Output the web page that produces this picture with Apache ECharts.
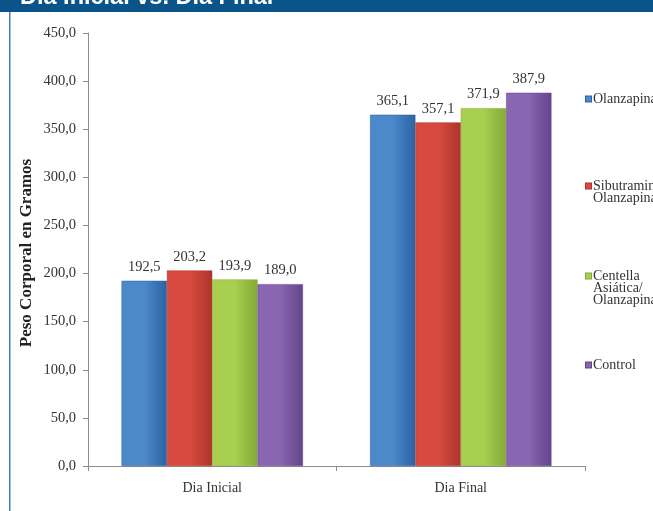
<!DOCTYPE html>
<html><head><meta charset="utf-8">
<script src="https://cdn.jsdelivr.net/npm/echarts@6/dist/echarts.min.js"></script>
<style>html,body{margin:0;padding:0;background:#fff}#c{width:653px;height:511px}</style>
</head><body><div id="c"></div>
<script>
const categories = ['Dia Inicial', 'Dia Final'];
const seriesNames = ['Olanzapina', 'Sibutramina/\nOlanzapina', 'Centella\nAsiática/\nOlanzapina', 'Control'];
const olanzapina = [192.5, 365.1];
const sibutramina = [203.2, 357.1];
const centella = [193.9, 371.9];
const control = [189.0, 387.9];
const yTicks = { min: 0, max: 450, interval: 50 };
const yAxisTitle = 'Peso Corporal en Gramos';

const colors = [
  ['#4b89cb', '#2c62a2'],
  ['#d84a3f', '#ad352d'],
  ['#a8cf4f', '#82aa36'],
  ['#8866b1', '#644489']
];
const values = [olanzapina, sibutramina, centella, control];
const serif = 'Liberation Serif';
const fmt = v => Number(v).toFixed(1).replace('.', ',');

const chart = echarts.init(document.getElementById('c'), null, { renderer: 'canvas' });

const legendTops = [87, 174, 264, 353];
const legends = seriesNames.map((n, i) => ({
  data: [n],
  orient: 'vertical',
  left: 576,
  top: legendTops[i],
  icon: 'none',
  itemWidth: 0,
  itemHeight: 0,
  selectedMode: false,
  formatter: name => {
    const lines = name.split('\n');
    return lines.map((l, k) => (k === 0 ? '{i' + i + '|}{t|' + l + '}' : '{s|}{t|' + l + '}')).join('\n');
  },
  textStyle: {
    fontFamily: serif, fontSize: 14, color: '#333', lineHeight: 12,
    rich: {
      ['i' + i]: { width: 5, height: 5, backgroundColor: colors[i][0], borderColor: colors[i][1], borderWidth: 1 },
      s: { width: 5, height: 5 },
      t: { fontFamily: serif, fontSize: 14, color: '#333', padding: [0, 0, 0, 2], lineHeight: 12 }
    }
  }
}));

chart.setOption({
  animation: false,
  backgroundColor: '#fff',
  graphic: [
    { type: 'rect', shape: { x: 0, y: 0, width: 653, height: 12 }, style: { fill: '#0b5489' }, z: 10 },
    { type: 'text', x: 20, y: -2, style: { text: 'Dia Inicial vs. Dia Final', fill: '#fff', font: 'bold 23.5px "Liberation Sans"', verticalAlign: 'middle' }, z: 11 },
    { type: 'rect', shape: { x: 9, y: 12, width: 1.5, height: 499 }, style: { fill: '#3f7fbf' }, z: 10 },
    { type: 'text', x: 27, y: 253, rotation: Math.PI / 2,
      style: { text: yAxisTitle, fill: '#222', font: 'bold 17px "Liberation Serif"', align: 'center', verticalAlign: 'middle' } }
  ],
  legend: legends,
  grid: { left: 88, right: 68, top: 33, bottom: 45, containLabel: false },
  xAxis: {
    type: 'category',
    data: categories,
    axisLine: { lineStyle: { color: '#8c8c8c' } },
    axisTick: { show: true, length: 5, lineStyle: { color: '#8c8c8c' } },
    axisLabel: { fontFamily: serif, fontSize: 14, color: '#333', margin: 15 }
  },
  yAxis: {
    type: 'value',
    min: yTicks.min, max: yTicks.max, interval: yTicks.interval,
    axisLine: { show: true, lineStyle: { color: '#8c8c8c' } },
    axisTick: { show: true, length: 5, lineStyle: { color: '#8c8c8c' } },
    splitLine: { show: false },
    axisLabel: { fontFamily: serif, fontSize: 14.5, color: '#333', margin: 12, formatter: fmt }
  },
  series: seriesNames.map((n, i) => ({
    name: n,
    type: 'bar',
    data: values[i],
    barGap: '0%',
    barCategoryGap: '27%',
    itemStyle: {
      color: new echarts.graphic.LinearGradient(0, 0, 1, 0, [
        { offset: 0, color: colors[i][0] },
        { offset: 0.5, color: colors[i][0] },
        { offset: 1, color: colors[i][1] }
      ]),
      borderColor: colors[i][1], borderWidth: 0.5
    },
    label: {
      show: true, position: 'top', distance: 6,
      fontFamily: serif, fontSize: 14.5, color: '#333',
      formatter: p => fmt(p.value)
    }
  }))
});
</script></body></html>
